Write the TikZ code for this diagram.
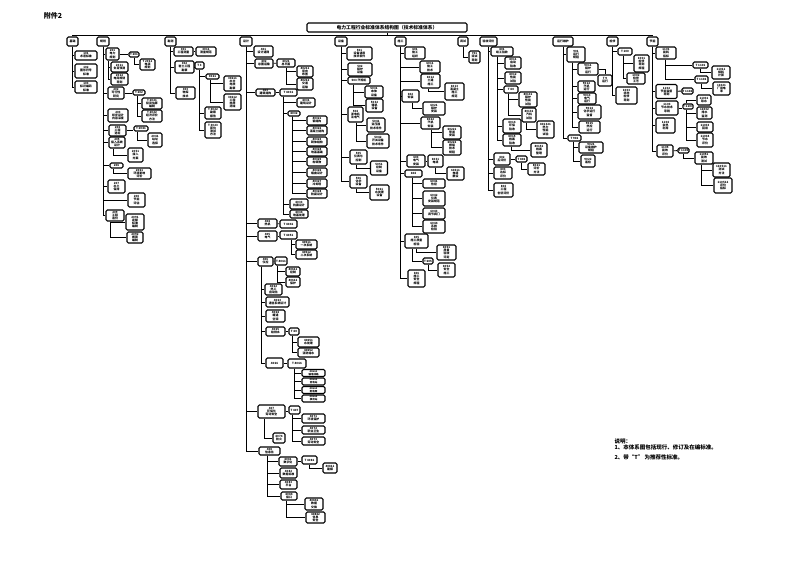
\documentclass[tikz,border=0pt]{standalone}
\usepackage{fontspec}
\setmainfont{Noto Sans CJK SC}
\usetikzlibrary{calc}
\begin{document}
\begin{tikzpicture}[x=1pt, y=-1pt,
	bx/.style={draw, line width=1.1pt, rounded corners=1.3pt, inner sep=0.3pt, align=center, font=\fontsize{2.9}{3.1}\selectfont\bfseries},
	ln/.style={line width=0.9pt}]
	
	\useasboundingbox (0,0) rectangle (793,561);
	
	\node[font=\fontsize{7}{8}\selectfont\bfseries] (att) at (53,15.5) {附件2};
	\node[bx, minimum width=160, minimum height=9, font=\fontsize{4.8}{5}\selectfont\bfseries] (title) at (387,27.5) {电力工程行业标准体系结构图（技术标准体系）};
	
	% top row
	\node[bx, minimum width=11, minimum height=9] (t1) at (72.5,41.5) {基础};
	\node[bx, minimum width=12, minimum height=9] (t2) at (103,41.5) {规划};
	\node[bx, minimum width=11, minimum height=9] (t3) at (170.5,41.5) {勘测};
	\node[bx, minimum width=12, minimum height=9] (t4) at (246,41.5) {设计};
	\node[bx, minimum width=12, minimum height=9] (t5) at (341,41.5) {设备};
	\node[bx, minimum width=11, minimum height=9] (t6) at (400.5,41.5) {施工};
	\node[bx, minimum width=10, minimum height=9] (t7) at (463,41.5) {调试};
	\node[bx, minimum width=17, minimum height=9] (t8) at (488.5,41.5) {验收评价};
	\node[bx, minimum width=20, minimum height=9] (t9) at (563,41.5) {运行维护};
	\node[bx, minimum width=11, minimum height=9] (t10) at (612.5,41.5) {检修};
	\node[bx, minimum width=11, minimum height=9] (t11) at (652.5,41.5) {节能};
	
	\coordinate (busl) at (72.5,35);
	\coordinate (busr) at (652.5,35);
	\draw[ln] (busl) -- (busr);
	\draw[ln] (title) -- (title |- busl);
	\foreach \k in {1,...,11} {
		\draw[ln] (t\k) -- (t\k |- busl);
	}
	
	% column 1
	\node[bx, minimum width=22, minimum height=9] (a1) at (86,55.5) {101\\术语标准};
	\node[bx, minimum width=22, minimum height=14] (a2) at (86,71) {102\\图形符号\\标准};
	\node[bx, minimum width=22, minimum height=12] (a3) at (86,87) {103\\标识编码\\标准};
	\foreach \c in {a1,a2,a3} {
		\draw[ln] (t1) |- (\c.west);
	}
	
	% column 2
	\node[bx, minimum width=13, minimum height=12] (b1) at (112.5,54) {201\\电力\\规划};
	\node[bx, minimum width=10, minimum height=5] (b1r) at (134,54.5) {T 201};
	\node[bx, minimum width=15, minimum height=11] (b1r1) at (147.5,64.5) {T 2011\\电源\\规划};
	\node[bx, minimum width=17, minimum height=10] (b1a) at (119.5,67) {2011\\负荷预测};
	\node[bx, minimum width=17, minimum height=12] (b1b) at (119.5,79) {2012\\电网规划\\导则};
	\node[bx, minimum width=16, minimum height=12] (b2) at (116,93) {202\\可行性\\研究};
	\node[bx, minimum width=12, minimum height=5] (b2r) at (139,92.5) {T 202};
	\node[bx, minimum width=20, minimum height=11] (b2r1) at (152,103.5) {T 2021\\投资估算\\编制};
	\node[bx, minimum width=20, minimum height=12] (b2r2) at (152,116) {T 2022\\经济评价\\方法};
	\node[bx, minimum width=20, minimum height=13] (b3) at (118,115.5) {203\\初步设计\\内容深度};
	\node[bx, minimum width=17, minimum height=11] (b4) at (117.5,130.5) {204\\工程\\选址};
	\node[bx, minimum width=14, minimum height=5] (b4r) at (141,128.5) {T 2041};
	\node[bx, minimum width=14, minimum height=14] (b4r1) at (155,140) {2041\\站址\\选择};
	\node[bx, minimum width=16, minimum height=11] (b5) at (117,142.5) {205\\接入系统\\设计};
	\node[bx, minimum width=15, minimum height=14] (b5a) at (135.5,155) {2051\\接入\\方案};
	\node[bx, minimum width=13, minimum height=5] (b6) at (116.5,165.5) {206};
	\node[bx, minimum width=23, minimum height=11] (b6a) at (139.5,173.5) {2061\\环境影响\\评价};
	\node[bx, minimum width=17, minimum height=13] (b7) at (116.5,186.5) {207\\水土\\保持};
	\node[bx, minimum width=17, minimum height=14] (b8) at (136.5,200) {208\\节能\\评估};
	\node[bx, minimum width=18, minimum height=11] (b9) at (115,215.5) {209\\工程\\造价};
	\node[bx, minimum width=18, minimum height=16] (b9a) at (135,222) {2091\\定额\\标准\\编制};
	\node[bx, minimum width=16, minimum height=11] (b9b) at (135,237.5) {2092\\概算\\编制};
	\foreach \c in {b1,b2,b3,b4,b5,b6,b7,b8,b9} {
		\draw[ln] (t2) |- (\c.west);
	}
	\draw[ln] (b1.east) -- (b1.east -| b1r.west);
	\draw[ln] (b1r) |- (b1r1.west);
	\draw[ln] ($(b1.south west)+(3,0)$) |- (b1a.west);
	\draw[ln] ($(b1.south west)+(3,0)$) |- (b1b.west);
	\draw[ln] (b2.east) -- (b2.east -| b2r.west);
	\draw[ln] ($(b2r.south west)+(5,0)$) |- (b2r1.west);
	\draw[ln] ($(b2r.south west)+(5,0)$) |- (b2r2.west);
	\draw[ln] (b4.east) -- (b4.east -| b4r.west);
	\draw[ln] ($(b4r.south west)+(4,0)$) |- (b4r1.west);
	\draw[ln] ($(b5.south west)+(5,0)$) |- (b5a.west);
	\draw[ln] ($(b6.south west)+(4,0)$) |- (b6a.west);
	\draw[ln] ($(b9.south west)+(5,0)$) |- (b9a.west);
	\draw[ln] ($(b9.south west)+(5,0)$) |- (b9b.west);
	
	% column 3
	\node[bx, minimum width=19, minimum height=9] (c1) at (183.5,51.5) {301\\工程测量};
	\node[bx, minimum width=20, minimum height=9] (c1r) at (206,51.5) {3011\\测量规范};
	\node[bx, minimum width=19, minimum height=12] (c2) at (184.5,67) {302\\岩土工程\\勘察};
	\node[bx, minimum width=9, minimum height=7] (c2r) at (199.5,65.5) {T 3};
	\node[bx, minimum width=13, minimum height=5] (c2r1) at (212.5,76.5) {3021};
	\node[bx, minimum width=17, minimum height=15] (c2r1a) at (232.5,83.5) {30211\\水文\\地质\\勘察};
	\node[bx, minimum width=17, minimum height=16] (c2r1b) at (232.5,102) {30212\\工程\\地质\\测绘};
	\node[bx, minimum width=16, minimum height=12] (c2r2) at (213,113) {T 3022\\勘察\\报告};
	\node[bx, minimum width=16, minimum height=16] (c2r3) at (213,130) {T 3023\\原位\\测试\\方法};
	\node[bx, minimum width=19, minimum height=12] (c3) at (185.5,93) {303\\物探\\技术};
	\foreach \c in {c1,c2,c3} {
		\draw[ln] (t3) |- (\c.west);
	}
	\draw[ln] (c1) -- (c1r);
	\draw[ln] (c2.east) -- (c2.east -| c2r.west);
	\draw[ln] (c2r) |- (c2r1.west);
	\draw[ln] (c2r) |- (c2r2.west);
	\draw[ln] (c2r) |- (c2r3.west);
	\draw[ln] ($(c2r1.south west)+(5,0)$) |- (c2r1a.west);
	\draw[ln] ($(c2r1.south west)+(5,0)$) |- (c2r1b.west);
	
	% column 4
	\node[bx, minimum width=19, minimum height=11] (d1) at (263.5,51.5) {401\\设计通则};
	\node[bx, minimum width=18, minimum height=9] (d2) at (264,63.5) {402\\总图运输};
	\node[bx, minimum width=18, minimum height=8] (d2r) at (286,63) {4021\\总平面};
	\node[bx, minimum width=16, minimum height=11] (d2r1) at (305,71.5) {40211\\竖向\\布置};
	\node[bx, minimum width=16, minimum height=12] (d2r2) at (305,84) {40212\\交通\\运输};
	\node[bx, minimum width=19, minimum height=7] (d3) at (265.5,92.5) {403\\建筑结构};
	\node[bx, minimum width=17, minimum height=7] (d3r) at (288.5,92.5) {T 4031};
	\node[bx, minimum width=18, minimum height=9] (d3r1) at (306,102.5) {4031\\建筑设计};
	\node[bx, minimum width=12, minimum height=5] (d3r2) at (294,113.5) {4032};
	\node[bx, minimum width=18, minimum height=10] (d3r3) at (299,204) {4033\\抗震设计};
	\node[bx, minimum width=18, minimum height=8] (d3r4) at (299,214) {4034\\地基处理};
	\foreach \i/\y/\t in {1/120.5/40321\\钢结构, 2/130.5/40322\\混凝土结构, 3/141.5/40323\\砌体结构, 4/151.5/40324\\地基基础, 5/161.5/40325\\构筑物, 6/172.5/40326\\烟囱设计, 7/183.5/40327\\冷却塔, 8/193.5/40328\\防腐设计} {
		\node[bx, minimum width=20, minimum height=9] (d3r2\i) at (317,\y) {\t};
		\draw[ln] ($(d3r2.south west)+(5,0)$) |- (d3r2\i.west);
	}
	\node[bx, minimum width=19, minimum height=9] (d4) at (267.5,223.5) {404\\热机};
	\node[bx, minimum width=17, minimum height=8] (d4r) at (288.5,224) {T 4041};
	\node[bx, minimum width=19, minimum height=10] (d5) at (267.5,236) {405\\电气};
	\node[bx, minimum width=17, minimum height=8] (d5r) at (288.5,235) {T 4051};
	\node[bx, minimum width=21, minimum height=9] (d5r1) at (306.5,244.5) {40511\\一次系统};
	\node[bx, minimum width=21, minimum height=9] (d5r2) at (306.5,254.5) {40512\\二次系统};
	\node[bx, minimum width=15, minimum height=9] (d6) at (265.5,261.5) {406\\仪控};
	\node[bx, minimum width=12, minimum height=8] (d6r) at (281,261) {T 4061};
	\node[bx, minimum width=14, minimum height=9] (d6r1) at (293,271.5) {40611\\控制};
	\node[bx, minimum width=14, minimum height=10] (d6r2) at (293,282) {40612\\保护};
	\node[bx, minimum width=17, minimum height=11] (d6a) at (273.5,289.5) {4062\\热工\\自动化};
	\node[bx, minimum width=23, minimum height=10] (d6b) at (277.5,302) {4063\\通信系统设计};
	\node[bx, minimum width=19, minimum height=12] (d6c) at (275.5,316) {4064\\暖通\\空调};
	\node[bx, minimum width=19, minimum height=9] (d6d) at (275.5,331.5) {4065\\给排水};
	\node[bx, minimum width=10, minimum height=7] (d6dr) at (294,331.5) {T 40};
	\node[bx, minimum width=21, minimum height=10] (d6dr1) at (308.5,342) {40651\\水处理};
	\node[bx, minimum width=21, minimum height=9] (d6dr2) at (308.5,352.5) {40652\\消防给水};
	\node[bx, minimum width=17, minimum height=10] (d6e) at (274.5,363) {4066};
	\node[bx, minimum width=18, minimum height=9] (d6er) at (297,363.5) {T 4066};
	\foreach \i/\y/\t in {1/373/40661\\输电线路, 2/381.5/40662\\变电站, 3/390/40663\\配电网, 4/398.5/40664\\换流站} {
		\node[bx, minimum width=23, minimum height=7, font=\fontsize{2.5}{2.7}\selectfont\bfseries] (d6er\i) at (313.5,\y) {\t};
		\draw[ln] ($(d6er.south west)+(7,0)$) |- (d6er\i.west);
	}
	\node[bx, minimum width=27, minimum height=13] (d7) at (271.5,411.5) {407\\环保与\\劳动安全};
	\node[bx, minimum width=11, minimum height=8] (d7r) at (294.5,410) {T 407};
	\node[bx, minimum width=23, minimum height=9] (d7r1) at (313.5,418.5) {4071\\环境保护};
	\node[bx, minimum width=23, minimum height=8] (d7r2) at (313.5,430) {4072\\职业卫生};
	\node[bx, minimum width=23, minimum height=8] (d7r3) at (313.5,441) {4073\\劳动安全};
	\node[bx, minimum width=12, minimum height=10] (d7a) at (279,438) {4074\\防火};
	\node[bx, minimum width=21, minimum height=8] (d8) at (269.5,451) {408\\信息化};
	\node[bx, minimum width=18, minimum height=9] (d8a) at (288,461.5) {4081\\数字化};
	\node[bx, minimum width=15, minimum height=8] (d8ar) at (309.5,460) {T 4081};
	\node[bx, minimum width=14, minimum height=10] (d8ar1) at (330,468) {40811\\建模};
	\node[bx, minimum width=17, minimum height=10] (d8b) at (288.5,473) {4082\\数据标准};
	\node[bx, minimum width=17, minimum height=9] (d8c) at (288.5,484.5) {4083\\平台};
	\node[bx, minimum width=16, minimum height=8] (d8d) at (289,496) {4084\\接口};
	\node[bx, minimum width=18, minimum height=12] (d8d1) at (314,504) {40841\\数据\\交换};
	\node[bx, minimum width=19, minimum height=11] (d8d2) at (315.5,517.5) {40842\\信息\\安全};
	\foreach \c in {d1,d2,d3,d4,d5,d6,d7,d8} {
		\draw[ln] (t4) |- (\c.west);
	}
	\draw[ln] (d2) -- (d2r);
	\draw[ln] (d2r) |- (d2r1.west);
	\draw[ln] (d2r) |- (d2r2.west);
	\draw[ln] (d3) -- (d3r);
	\foreach \c in {d3r1,d3r2,d3r3,d3r4} {
		\draw[ln] ($(d3r.south west)+(4,0)$) |- (\c.west);
	}
	\draw[ln] (d4) -- (d4r);
	\draw[ln] (d5.east) -- (d5.east -| d5r.west);
	\draw[ln] ($(d5r.south west)+(12,0)$) |- (d5r1.west);
	\draw[ln] ($(d5r.south west)+(12,0)$) |- (d5r2.west);
	\draw[ln] (d6) -- (d6r);
	\draw[ln] ($(d6r.south west)+(3,0)$) |- (d6r1.west);
	\draw[ln] ($(d6r.south west)+(3,0)$) |- (d6r2.west);
	\foreach \c in {d6a,d6b,d6c,d6d,d6e} {
		\draw[ln] ($(d6.south west)+(4,0)$) |- (\c.west);
	}
	\draw[ln] (d6d) -- (d6dr);
	\draw[ln] ($(d6dr.south west)+(4,0)$) |- (d6dr1.west);
	\draw[ln] ($(d6dr.south west)+(4,0)$) |- (d6dr2.west);
	\draw[ln] (d6e.east) -- (d6e.east -| d6er.west);
	\draw[ln] (d7.east) -- (d7.east -| d7r.west);
	\foreach \c in {d7r1,d7r2,d7r3} {
		\draw[ln] ($(d7r.south west)+(4,0)$) |- (\c.west);
	}
	\draw[ln] ($(d7.south west)+(7,0)$) |- (d7a.west);
	\foreach \c in {d8a,d8b,d8c,d8d} {
		\draw[ln] ($(d8.south west)+(9,0)$) |- (\c.west);
	}
	\draw[ln] (d8a.east) -- (d8a.east -| d8ar.west);
	\draw[ln] ($(d8ar.south west)+(8,0)$) |- (d8ar1.west);
	\draw[ln] ($(d8d.south west)+(6,0)$) |- (d8d1.west);
	\draw[ln] ($(d8d.south west)+(6,0)$) |- (d8d2.west);
	
	% column 5
	\node[bx, minimum width=25, minimum height=13] (e1) at (359.5,53.5) {501\\设备通用\\技术条件};
	\node[bx, minimum width=24, minimum height=13] (e2) at (360,69.5) {502\\锅炉\\设备};
	\node[bx, minimum width=22, minimum height=7] (e3) at (359,80.5) {503 汽轮机};
	\node[bx, minimum width=18, minimum height=12] (e3a) at (374,92) {5031\\本体\\设备};
	\node[bx, minimum width=17, minimum height=13] (e3b) at (374.5,105.5) {5032\\辅机\\设备};
	\node[bx, minimum width=15, minimum height=15] (e3c) at (355.5,114.5) {504\\发电机\\及电气};
	\node[bx, minimum width=18, minimum height=14] (e3c1) at (376,125) {5041\\变压器\\技术条件};
	\node[bx, minimum width=22, minimum height=14] (e3c2) at (378,141) {5042\\开关设备\\技术条件};
	\node[bx, minimum width=17, minimum height=14] (e4) at (358.5,157) {505\\仪表与\\控制};
	\node[bx, minimum width=17, minimum height=14] (e4a) at (379,168) {5051\\控制\\设备};
	\node[bx, minimum width=17, minimum height=13] (e5) at (358.5,181.5) {506\\化学\\设备};
	\node[bx, minimum width=19, minimum height=15] (e5a) at (379.5,192.5) {5061\\水处理\\设备};
	\foreach \c in {e1,e2,e3,e3c,e4,e5} {
		\draw[ln] (t5) |- (\c.west);
	}
	\draw[ln] ($(e3.south west)+(6,0)$) |- (e3a.west);
	\draw[ln] ($(e3.south west)+(6,0)$) |- (e3b.west);
	\draw[ln] ($(e3c.south west)+(9,0)$) |- (e3c1.west);
	\draw[ln] ($(e3c.south west)+(9,0)$) |- (e3c2.west);
	\draw[ln] ($(e4.south west)+(7,0)$) |- (e4a.west);
	\draw[ln] ($(e5.south west)+(7,0)$) |- (e5a.west);
	
	% column 6
	\node[bx, minimum width=20, minimum height=12] (f1) at (415,53) {601\\施工\\组织};
	\node[bx, minimum width=20, minimum height=12] (f2) at (430,67) {6011\\施工\\技术};
	\node[bx, minimum width=19, minimum height=14] (f3) at (430.5,81) {6012\\土建\\施工};
	\node[bx, minimum width=19, minimum height=17] (f3a) at (454.5,91.5) {6013\\混凝土\\施工\\规范};
	\node[bx, minimum width=17, minimum height=12] (f4) at (410.5,96) {602\\安装};
	\node[bx, minimum width=22, minimum height=13] (f4a) at (434,108.5) {6021\\锅炉\\安装};
	\node[bx, minimum width=19, minimum height=12] (f5) at (430.5,123) {6022\\汽机\\安装};
	\node[bx, minimum width=18, minimum height=13] (f5a) at (452,132.5) {60221\\管道\\安装};
	\node[bx, minimum width=18, minimum height=15] (f5b) at (452,147.5) {60222\\焊接\\技术\\规程};
	\node[bx, minimum width=18, minimum height=12] (f6) at (416,161) {603\\电气\\安装};
	\node[bx, minimum width=15, minimum height=12] (f6r) at (435.5,161) {6031\\电缆};
	\node[bx, minimum width=17, minimum height=13] (f6r1) at (455.5,173.5) {60311\\电缆\\敷设};
	\node[bx, minimum width=17, minimum height=7] (f7) at (413.5,173.5) {604};
	\node[bx, minimum width=22, minimum height=9] (f7a) at (434,183.5) {6041\\热控};
	\node[bx, minimum width=22, minimum height=15] (f7b) at (434,198.5) {6042\\仪表\\安装规范};
	\node[bx, minimum width=22, minimum height=11] (f7c) at (434,213.5) {6043\\调节阀门};
	\node[bx, minimum width=22, minimum height=13] (f7d) at (434,226.5) {6044\\系统\\检验};
	\node[bx, minimum width=23, minimum height=14] (f8) at (416.5,241) {605\\施工质量\\检验};
	\node[bx, minimum width=19, minimum height=15] (f8a) at (446.5,252.5) {6051\\质量\\验收\\评定};
	\node[bx, minimum width=10, minimum height=6] (f8r) at (428,261) {T 605};
	\node[bx, minimum width=17, minimum height=14] (f8r1) at (446.5,270) {6052\\安全\\施工};
	\node[bx, minimum width=17, minimum height=17] (f9) at (416.5,278.5) {606\\施工\\安全\\规程};
	\foreach \c in {f1,f2,f3,f4,f5,f6,f7,f8,f9} {
		\draw[ln] (t6) |- (\c.west);
	}
	\draw[ln] ($(f3.south west)+(8,0)$) |- (f3a.west);
	\draw[ln] ($(f4.south west)+(11,0)$) |- (f4a.west);
	\draw[ln] ($(f5.south west)+(11,0)$) |- (f5a.west);
	\draw[ln] ($(f5.south west)+(11,0)$) |- (f5b.west);
	\draw[ln] (f6) -- (f6r);
	\draw[ln] ($(f6r.south west)+(8,0)$) |- (f6r1.west);
	\foreach \c in {f7a,f7b,f7c,f7d} {
		\draw[ln] ($(f7.south west)+(8,0)$) |- (\c.west);
	}
	\draw[ln] ($(f8.south west)+(12,0)$) |- (f8a.west);
	\draw[ln] ($(f8.south west)+(8,0)$) |- (f8r.west);
	\draw[ln] (f8r) |- (f8r1.west);
	
	% column 7
	\node[bx, minimum width=11, minimum height=12] (g1) at (474.5,57) {701\\调试\\导则};
	\draw[ln] (t7) |- (g1.west);
	
	% column 8
	\node[bx, minimum width=22, minimum height=9] (h1) at (502,51.5) {801\\竣工验收};
	\node[bx, minimum width=16, minimum height=12] (h1a) at (513,63) {8011\\启动\\验收};
	\node[bx, minimum width=16, minimum height=12] (h1b) at (513,78) {8012\\性能\\试验};
	\node[bx, minimum width=14, minimum height=7] (h1c) at (511,89.5) {T 80};
	\node[bx, minimum width=18, minimum height=15] (h1c1) at (528,99.5) {80131\\锅炉\\性能\\试验};
	\node[bx, minimum width=14, minimum height=14] (h1c2) at (529,115) {80132\\汽机\\试验};
	\node[bx, minimum width=17, minimum height=17] (h1c2a) at (545.5,129.5) {801321\\热力\\性能\\试验};
	\node[bx, minimum width=18, minimum height=14] (h1d) at (512,126) {8014\\环保\\验收};
	\node[bx, minimum width=18, minimum height=12] (h1e) at (512,140) {8015\\档案\\验收};
	\node[bx, minimum width=16, minimum height=14] (h1e1) at (539,150) {80151\\档案\\整理};
	\node[bx, minimum width=16, minimum height=12] (h2) at (502,159) {802\\后评价};
	\node[bx, minimum width=11, minimum height=6] (h2r) at (521.5,159) {T 802};
	\node[bx, minimum width=17, minimum height=12] (h2r1) at (536.5,169) {8021\\评价\\方法};
	\node[bx, minimum width=18, minimum height=12] (h3) at (503,173) {803\\达标\\评价};
	\node[bx, minimum width=19, minimum height=14] (h4) at (503.5,190) {804\\工程\\创优评价};
	\foreach \c in {h1,h2,h3,h4} {
		\draw[ln] (t8) |- (\c.west);
	}
	\foreach \c in {h1a,h1b,h1c,h1d,h1e} {
		\draw[ln] ($(h1.south west)+(7,0)$) |- (\c.west);
	}
	\draw[ln] ($(h1c.south west)+(5,0)$) |- (h1c1.west);
	\draw[ln] ($(h1c.south west)+(5,0)$) |- (h1c2.west);
	\draw[ln] ($(h1c2.south west)+(5,0)$) |- (h1c2a.west);
	\draw[ln] ($(h1e.south west)+(9,0)$) |- (h1e1.west);
	\draw[ln] (h2) -- (h2r);
	\draw[ln] (h2r) |- (h2r1.west);
	
	% column 9
	\node[bx, minimum width=18, minimum height=15] (i1) at (576,54.5) {901\\运行\\规程};
	\node[bx, minimum width=20, minimum height=12] (i1a) at (588,69) {9011\\锅炉\\运行};
	\node[bx, minimum width=14, minimum height=11] (i1r) at (605,80.5) {T 9\\运行};
	\node[bx, minimum width=17, minimum height=11] (i1b) at (586.5,86.5) {9012\\汽机\\运行};
	\node[bx, minimum width=18, minimum height=11] (i1c) at (587,98.5) {9013\\电气\\运行};
	\node[bx, minimum width=23, minimum height=14] (i1d) at (589.5,112) {9014\\化学运行\\监督};
	\node[bx, minimum width=21, minimum height=12] (i1e) at (589.5,127) {9015\\热控\\运行};
	\node[bx, minimum width=13, minimum height=6] (i2) at (574.5,138) {T 902};
	\node[bx, minimum width=24, minimum height=11] (i2a) at (591,147.5) {9021\\设备维护\\规程};
	\node[bx, minimum width=14, minimum height=12] (i2b) at (588,161) {9022\\巡检};
	\foreach \c in {i1,i2} {
		\draw[ln] (t9) |- (\c.west);
	}
	\foreach \c in {i1a,i1b,i1c,i1d,i1e} {
		\draw[ln] ($(i1.south west)+(6,0)$) |- (\c.west);
	}
	\draw[ln] (i1a) -| (i1r);
	\draw[ln] ($(i2.south west)+(6,0)$) |- (i2a.west);
	\draw[ln] ($(i2.south west)+(6,0)$) |- (i2b.west);
	
	% column 10
	\node[bx, minimum width=14, minimum height=7] (j1) at (625,51.5) {T 100};
	\node[bx, minimum width=15, minimum height=17] (j1a) at (641.5,63.5) {1001\\检修\\导则\\规程};
	\node[bx, minimum width=18, minimum height=11] (j1b) at (636,78.5) {1002\\检修\\工艺};
	\node[bx, minimum width=21, minimum height=17] (j2) at (626.5,95.5) {1003\\状态\\检修\\导则};
	\draw[ln] (t10) |- (j1.west);
	\draw[ln] (t10) |- (j2.west);
	\draw[ln] ($(j1.south west)+(6,0)$) |- (j1a.west);
	\draw[ln] ($(j1.south west)+(6,0)$) |- (j1b.west);
	
	% column 11
	\node[bx, minimum width=20, minimum height=12] (k1) at (666,53) {1101\\能耗\\指标};
	\node[bx, minimum width=15, minimum height=6] (k1r1) at (700.5,65) {T 1101};
	\node[bx, minimum width=18, minimum height=13] (k1r1a) at (721,72.5) {11011\\煤耗\\计算};
	\node[bx, minimum width=13, minimum height=7] (k1r2) at (701.5,79.5) {T 1102};
	\node[bx, minimum width=17, minimum height=13] (k1r2a) at (721.5,88.5) {11021\\厂用电\\率};
	\node[bx, minimum width=21, minimum height=14] (k2) at (666.5,91.5) {1102\\节能监督\\导则};
	\node[bx, minimum width=11, minimum height=6] (k2r) at (687.5,91) {T 1102};
	\node[bx, minimum width=22, minimum height=14] (k3) at (667,108) {1103\\节水技术\\导则};
	\node[bx, minimum width=10, minimum height=5] (k3r) at (688,106.5) {T 1103};
	\node[bx, minimum width=14, minimum height=10] (k3r1) at (704,100) {11031\\取水};
	\node[bx, minimum width=15, minimum height=12] (k3r2) at (704.5,113) {11032\\排水\\监测};
	\node[bx, minimum width=16, minimum height=10] (k3r3) at (705,127) {11033\\回用};
	\node[bx, minimum width=16, minimum height=14] (k3r4) at (705,140) {11034\\节水\\评价};
	\node[bx, minimum width=19, minimum height=15] (k4) at (665.5,125.5) {1104\\余热\\利用};
	\node[bx, minimum width=16, minimum height=12] (k5) at (665,151) {1105\\能效\\评价};
	\node[bx, minimum width=11, minimum height=5] (k5r) at (683.5,150.5) {T 1105};
	\node[bx, minimum width=18, minimum height=12] (k5r1) at (704,158) {11051\\能效\\测试};
	\node[bx, minimum width=17, minimum height=14] (k5r1a) at (721.5,170) {110511\\测试\\方法};
	\node[bx, minimum width=18, minimum height=15] (k5r1b) at (723,185.5) {110512\\评价\\指标};
	\foreach \c in {k1,k2,k3,k4,k5} {
		\draw[ln] (t11) |- (\c.west);
	}
	\draw[ln] ($(k1.south west)+(10,0)$) |- (k1r1.west);
	\draw[ln] ($(k1.south west)+(10,0)$) |- (k1r2.west);
	\draw[ln] (k1r1) |- (k1r1a.west);
	\draw[ln] (k1r2) |- (k1r2a.west);
	\draw[ln] (k2) -- (k2r);
	\draw[ln] (k3.east) -- (k3.east -| k3r.west);
	\draw[ln] ($(k3r.north west)+(4,0)$) |- (k3r1.west);
	\foreach \c in {k3r2,k3r3,k3r4} {
		\draw[ln] ($(k3r.south west)+(4,0)$) |- (\c.west);
	}
	\draw[ln] (k5) -- (k5r);
	\draw[ln] (k5r) |- (k5r1.west);
	\draw[ln] ($(k5r1.south west)+(7,0)$) |- (k5r1a.west);
	\draw[ln] ($(k5r1.south west)+(7,0)$) |- (k5r1b.west);
	
	% notes
	\node[anchor=west, font=\fontsize{5.5}{6}\selectfont\bfseries] (note0) at (611,441.5) {说明：};
	\node[anchor=west, font=\fontsize{5.5}{6}\selectfont\bfseries] (note1) at (611,447.5) {1、本体系图包括现行、修订及在编标准。};
	\node[anchor=west, font=\fontsize{5.5}{6}\selectfont\bfseries] (note2) at (611,457) {2、带“T” 为推荐性标准。};
	
\end{tikzpicture}
\end{document}
